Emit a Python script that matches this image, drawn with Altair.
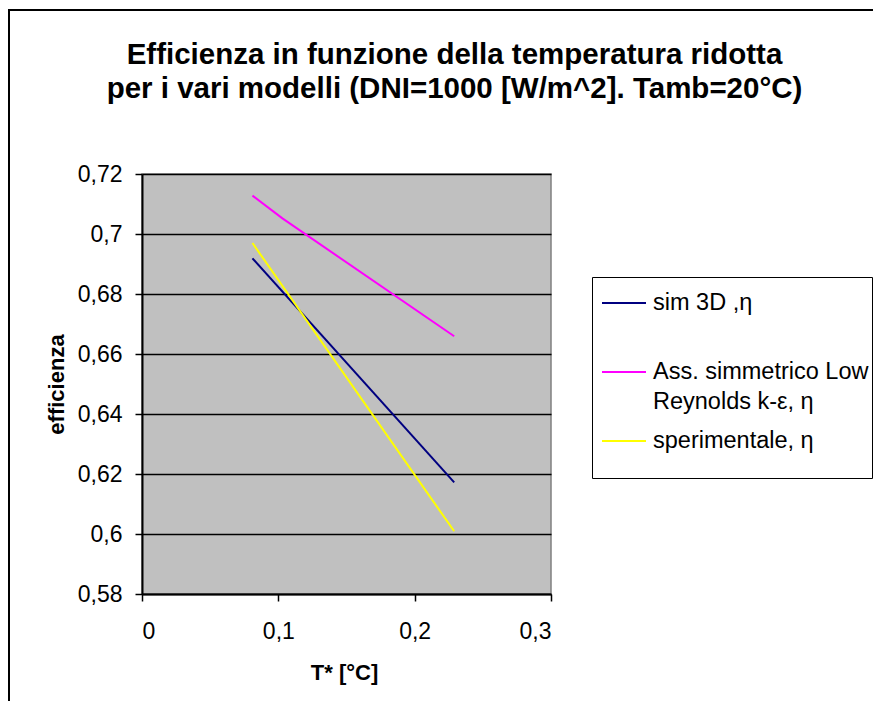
import altair as alt
import pandas as pd

# ---- data ----
series_names = ["sim 3D ,η", "Ass. simmetrico Low|Reynolds k-ε,  η", "sperimentale, η"]
series_colors = ["#000080", "#FF00FF", "#FFFF00"]

sim_x = [0.081, 0.229]
sim_y = [0.6919, 0.6172]
ass_x = [0.081, 0.103, 0.229]
ass_y = [0.7128, 0.7052, 0.6659]
sper_x = [0.081, 0.229]
sper_y = [0.6970, 0.6009]

x_ticks = [0, 0.1, 0.2, 0.3]
y_ticks = [0.58, 0.60, 0.62, 0.64, 0.66, 0.68, 0.70, 0.72]

title_lines = ["Efficienza in funzione della temperatura ridotta",
               "per i vari modelli (DNI=1000 [W/m^2]. Tamb=20°C)"]
x_title = "T* [°C]"
y_title = "efficienza"

rows = []
for name, xs, ys in zip(series_names, [sim_x, ass_x, sper_x], [sim_y, ass_y, sper_y]):
    for i, (xv, yv) in enumerate(zip(xs, ys)):
        rows.append({"serie": name, "T": xv, "eff": yv, "ord": i})
df = pd.DataFrame(rows)

FONT = "Liberation Sans"

# legend labels: split two-line label on '|', give the first entry a blank second line
label_expr = ("indexof(datum.label, '|') >= 0 ? [slice(datum.label, 0, indexof(datum.label, '|')), "
              "slice(datum.label, indexof(datum.label, '|') + 1)] : "
              "(datum.index == 0 ? [datum.label, ''] : datum.label)")

lines = alt.Chart(df).mark_line(strokeWidth=2, clip=True).encode(
    x=alt.X("T:Q", scale=alt.Scale(domain=[0, 0.3], nice=False),
            axis=alt.Axis(values=x_ticks, title=x_title, grid=False,
                          labelExpr="replace(toString(datum.value), '.', ',')",
                          labelFontSize=23, labelPadding=19, tickSize=7, tickColor="black",
                          tickWidth=1.5, domainColor="black", domainWidth=2,
                          titleFontSize=22, titleFontWeight="bold", titleX=202, titleY=85,
                          titleBaseline="alphabetic", titleAlign="center")),
    y=alt.Y("eff:Q", scale=alt.Scale(domain=[0.58, 0.72], nice=False, zero=False),
            axis=alt.Axis(values=y_ticks, title=y_title, grid=True, gridColor="black",
                          gridWidth=1.5,
                          labelExpr="replace(toString(round(datum.value*100)/100), '.', ',')",
                          labelFontSize=23, labelPadding=13, tickSize=7, tickColor="black",
                          tickWidth=1.5, domainColor="black", domainWidth=2,
                          titleFontSize=22, titleFontWeight="bold", titleAngle=270,
                          titleX=-79, titleY=210, titleBaseline="alphabetic",
                          titleAlign="center")),
    color=alt.Color("serie:N",
                    scale=alt.Scale(domain=series_names, range=series_colors),
                    legend=alt.Legend(orient="none", legendX=450, legendY=103,
                                      title=" ", titleOrient="bottom", titleFontSize=12,
                                      titlePadding=11,
                                      symbolType="stroke", symbolSize=1936,
                                      symbolStrokeWidth=2, symbolOffset=6, labelOffset=6,
                                      labelFontSize=23.5, labelLimit=500,
                                      labelExpr=label_expr, rowPadding=4,
                                      padding=3, strokeColor="black", fillColor="white")),
    order="ord:Q",
)

frame = alt.Chart(pd.DataFrame({"a": [0]})).mark_rect(
    filled=False, stroke="black", strokeWidth=2
).encode(
    x=alt.value(-133), x2=alt.value(2000), y=alt.value(-164), y2=alt.value(2000)
)

chart = alt.layer(frame, lines).properties(
    width=409, height=420,
    autosize=alt.AutoSizeParams(type="none"),
    padding={"left": 134, "top": 166, "right": 322, "bottom": 107},
    title=alt.TitleParams(text=title_lines, fontSize=29.5, fontWeight="bold", font=FONT,
                          anchor="middle", frame="group", baseline="alphabetic",
                          lineHeight=34, offset=-118, dx=108, color="black"),
).configure(
    font=FONT,
    background="white",
    style={"guide-label": {"lineHeight": 30}},
).configure_view(
    fill="#C0C0C0", stroke="#808080", strokeWidth=1.5
).configure_axis(
    labelColor="black", titleColor="black", labelFont=FONT, titleFont=FONT
).configure_legend(
    labelColor="black", labelFont=FONT
)

chart.save("out.html", embed_options={"renderer": "svg", "actions": False})
